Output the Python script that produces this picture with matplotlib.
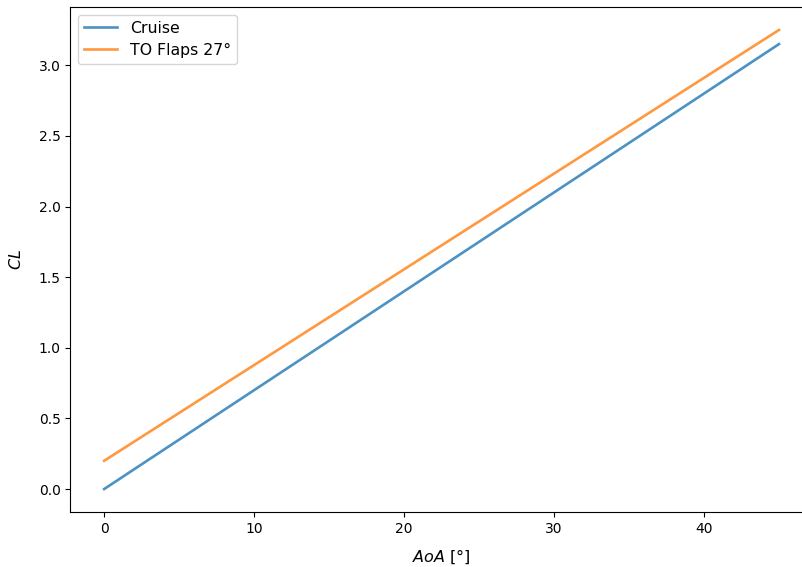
import matplotlib
matplotlib.use("Agg")
import matplotlib.pyplot as plt

# Lift coefficient vs angle of attack for two configurations
aoa_deg = [0, 45]
cl_cruise = [0.0, 3.15]
cl_to_flaps = [0.2, 3.25]
labels = ["Cruise", "TO Flaps 27°"]

fig = plt.figure(figsize=(8.02, 5.67), dpi=100)
W, H = 802, 567
left_px, right_px, top_px, bottom_px = 70.4, 812.75, 7.0, 512.0
ax = fig.add_axes([left_px / W, (H - bottom_px) / H,
                   (right_px - left_px) / W, (bottom_px - top_px) / H])

ax.plot(aoa_deg, cl_cruise, label=labels[0], alpha=0.8, lw=1.9)
ax.plot(aoa_deg, cl_to_flaps, label=labels[1], alpha=0.8, lw=1.9)

ax.set_xlabel("$AoA$ [°]", fontsize=11.5, labelpad=8.5)
ax.set_ylabel("$CL$", fontsize=11.5, labelpad=10.5)
ax.legend(loc="upper left", fontsize=11.3, borderpad=0.38, handlelength=2.1,
          handletextpad=0.8, labelspacing=0.45, borderaxespad=0.5)

fig.savefig("out.png", dpi=100)
